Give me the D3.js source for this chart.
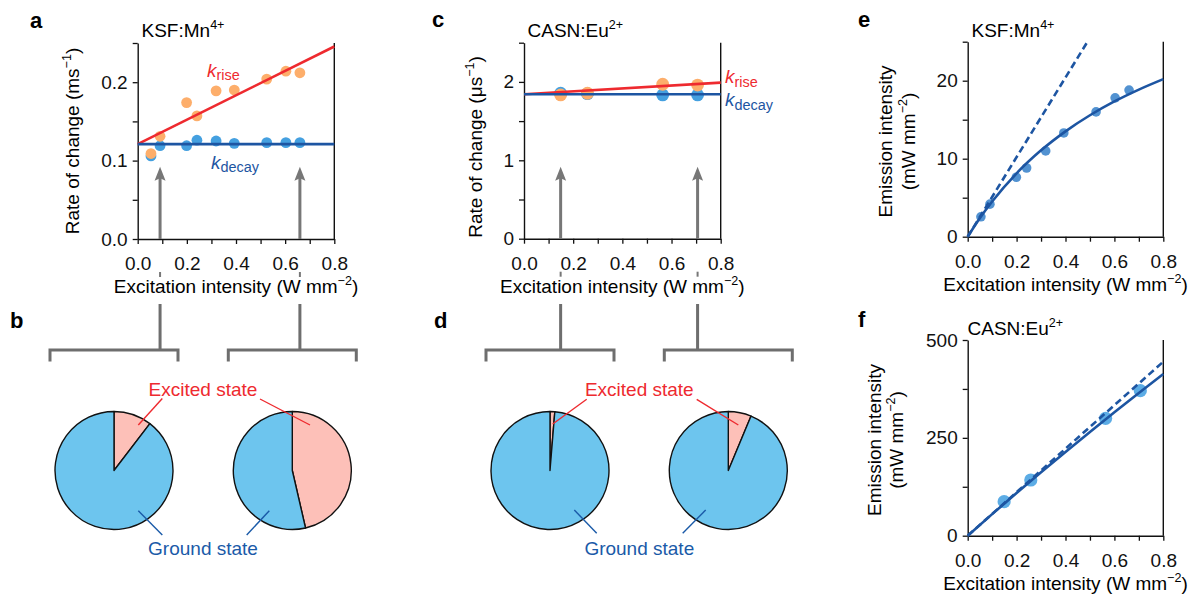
<!DOCTYPE html>
<html>
<head>
<meta charset="utf-8">
<script src="https://cdn.jsdelivr.net/npm/d3@7"></script>
<style>
  body { margin: 0; background: #fff; }
  svg { display: block; font-family: "Liberation Sans", Arial, Helvetica, sans-serif; }
</style>
</head>
<body>
<svg id="fig" width="1191" height="597"></svg>
<script>
// ---------- data ----------
// KSF:Mn4+ rate constants vs excitation intensity (W mm^-2), in ms^-1
const excitationKSF = [0.054, 0.091, 0.199, 0.241, 0.319, 0.393, 0.525, 0.603, 0.660];
const kRiseKSF      = [0.109, 0.131, 0.174, 0.157, 0.189, 0.190, 0.204, 0.214, 0.212];
const kDecayKSF     = [0.106, 0.119, 0.119, 0.126, 0.125, 0.122, 0.123, 0.123, 0.123];
const kRiseFitKSF   = [[0, 0.121], [0.8, 0.2455]];
const kDecayFitKSF  = [[0, 0.121], [0.8, 0.121]];

// CASN:Eu2+ rate constants, in us^-1
const excitationCASN = [0.149, 0.258, 0.564, 0.706];
const kRiseCASN      = [1.834, 1.855, 1.970, 1.960];
const kDecayCASN     = [1.855, 1.850, 1.834, 1.834];
const kRiseFitCASN   = [[0, 1.843], [0.8, 1.991]];
const kDecayFitCASN  = [[0, 1.843], [0.8, 1.843]];

// Emission intensity (mW mm^-2)
const emissionKSF = [2.55, 4.17, 7.62, 8.81, 11.0, 13.3, 16.0, 17.8, 18.8];
const emissionFitKSF = [[0, 0], [0.05, 2.40], [0.1, 4.52], [0.2, 8.13], [0.3, 11.07], [0.4, 13.51],
                        [0.5, 15.57], [0.6, 17.34], [0.7, 18.86], [0.8, 20.20]];
const emissionLinearKSF = [[0, 0], [0.49, 25]];

const emissionCASN = [86.9, 142.3, 299.8, 370.5];
const emissionFitCASN = [[0, 0], [0.1, 55.1], [0.2, 109.1], [0.3, 162.1], [0.4, 214.1],
                         [0.5, 265.2], [0.6, 315.4], [0.7, 364.7], [0.8, 413.0]];
const emissionLinearCASN = [[0, 0], [0.8, 444.6]];

// Excitation intensities that are marked with arrows, and the arrow tips (y units)
const markedKSF = [0.091, 0.660];
const markedCASN = [0.149, 0.706];
const arrowTipKSF = 0.092;
const arrowTipCASN = 0.918;

// Excited-state fraction for each marked intensity
const excitedFractionKSF = [0.104, 0.464];
const excitedFractionCASN = [0.013, 0.063];

// Tick values
const xTicks = [0, 0.1, 0.2, 0.3, 0.4, 0.5, 0.6, 0.7, 0.8];
const xTickLabels = [0, 0.2, 0.4, 0.6, 0.8];

// ---------- style ----------
const FS = 19;
const RED = '#ee2a2f';
const DARK_BLUE = '#1d55a2';
const ORANGE_PT = '#fdae6b';
const BLUE_PT = '#44a0e0';
const GREY = '#777777';
const PIE_BLUE = '#6dc5ee';
const PIE_PINK = '#fdc0b8';

const svg = d3.select('#fig');

// text with superscript / subscript parts
function richText(parent, parts, size) {
  const t = parent.append('text').attr('font-size', size);
  let cur = 0;
  parts.forEach(p => {
    const ts = t.append('tspan').text(p.t);
    let target = 0;
    if (p.sup) { target = -0.42 * size; ts.attr('font-size', size * 0.66); }
    if (p.sub) { target = p.sub; ts.attr('font-size', size * 0.76); }
    if (p.italic) ts.attr('font-style', 'italic');
    if (target !== cur) ts.attr('dy', target - cur);
    cur = target;
  });
  return t;
}

// framed axes: left + bottom axes, right border line
function makeAxes(o) {
  const x = d3.scaleLinear().domain([0, 0.8]).range([o.left, o.right]);
  const y = d3.scaleLinear().domain([0, o.yMax]).range([o.bottom, o.top]);
  const g = svg.append('g');

  const xAxis = d3.axisBottom(x).tickValues(xTicks).tickSize(5).tickSizeOuter(0).tickPadding(14)
    .tickFormat(d => xTickLabels.some(v => Math.abs(v - d) < 1e-9) ? d3.format('.1f')(d) : '');
  const yAxis = d3.axisLeft(y).tickValues(o.yTicks).tickSize(5).tickSizeOuter(0).tickPadding(5)
    .tickFormat(d => o.yLabels.some(v => Math.abs(v - d) < 1e-9) ? o.yFormat(d) : '');

  const gx = g.append('g').attr('transform', `translate(0,${o.bottom})`).call(xAxis);
  const gy = g.append('g').attr('transform', `translate(${o.left},0)`).call(yAxis);
  [gx, gy].forEach(a => {
    a.selectAll('path.domain').attr('stroke', '#111').attr('stroke-width', 1.4);
    a.selectAll('.tick line').attr('stroke', '#111').attr('stroke-width', 1.3);
    a.selectAll('.tick text').attr('font-size', FS).attr('fill', '#111')
      .attr('font-family', '"Liberation Sans", Arial, Helvetica, sans-serif');
  });
  gx.selectAll('.tick text').attr('dy', null).attr('y', 31 - 0);
  g.append('line').attr('x1', o.right).attr('x2', o.right).attr('y1', o.top).attr('y2', o.bottom)
    .attr('stroke', '#111').attr('stroke-width', 1.4);

  // x-axis title
  const xl = richText(g, [{ t: 'Excitation intensity (W mm' }, { t: '−2', sup: true }, { t: ')' }], FS)
    .attr('x', (o.left + o.right) / 2).attr('y', o.bottom + 54).attr('text-anchor', 'middle');
  return { x, y, g };
}

function line(sc, pts, color, width, dash) {
  const gen = d3.line().x(d => sc.x(d[0])).y(d => sc.y(d[1])).curve(d3.curveMonotoneX);
  const p = sc.g.append('path').datum(pts).attr('d', gen).attr('fill', 'none')
    .attr('stroke', color).attr('stroke-width', width);
  if (dash) p.attr('stroke-dasharray', dash);
  return p;
}

function dots(sc, xs, ys, color, r, opacity) {
  sc.g.append('g').selectAll('circle').data(xs).join('circle')
    .attr('cx', d => sc.x(d)).attr('cy', (d, i) => sc.y(ys[i])).attr('r', r)
    .attr('fill', color).attr('fill-opacity', opacity || 1);
}

function arrows(sc, xs, tipVal) {
  xs.forEach(v => {
    const px = sc.x(v), tip = sc.y(tipVal), base = sc.y(0);
    sc.g.append('line').attr('x1', px).attr('x2', px).attr('y1', base).attr('y2', tip + 10)
      .attr('stroke', GREY).attr('stroke-width', 3);
    sc.g.append('path')
      .attr('d', `M${px},${tip} L${px + 5.5},${tip + 14} L${px},${tip + 11.5} L${px - 5.5},${tip + 14} Z`)
      .attr('fill', GREY);
    // short continuation between tick labels and the axis title
    sc.g.append('line').attr('x1', px).attr('x2', px).attr('y1', base + 33).attr('y2', base + 38)
      .attr('stroke', GREY).attr('stroke-width', 2);
  });
}

function panelLetter(t, x, y) {
  svg.append('text').text(t).attr('x', x).attr('y', y).attr('font-size', 22)
    .attr('font-weight', 'bold').attr('fill', '#000');
}

function kLabel(parent, sub, x, y, color) {
  richText(parent, [{ t: 'k', italic: true }, { t: sub, sub: 3.5 }], FS)
    .attr('x', x).attr('y', y).attr('fill', color);
}

// ---------- panel a ----------
const a = makeAxes({ left: 137.7, right: 334.3, top: 43, bottom: 239, yMax: 0.25,
  yTicks: [0, 0.05, 0.1, 0.15, 0.2, 0.25], yLabels: [0, 0.1, 0.2], yFormat: d3.format('.1f') });
dots(a, excitationKSF, kDecayKSF, BLUE_PT, 5.4);
dots(a, excitationKSF, kRiseKSF, ORANGE_PT, 5.4);
line(a, kRiseFitKSF, RED, 2.6);
line(a, kDecayFitKSF, DARK_BLUE, 2.6);
arrows(a, markedKSF, arrowTipKSF);
kLabel(a.g, 'rise', 207, 76.5, RED);
kLabel(a.g, 'decay', 211, 168.5, DARK_BLUE);
richText(a.g, [{ t: 'KSF:Mn' }, { t: '4+', sup: true }], FS).attr('x', 141.5).attr('y', 36.5);
richText(a.g.append('g').attr('transform', 'translate(79,141) rotate(-90)'),
  [{ t: 'Rate of change (ms' }, { t: '−1', sup: true }, { t: ')' }], FS).attr('text-anchor', 'middle');
panelLetter('a', 30, 28);

// ---------- panel c ----------
const c = makeAxes({ left: 524, right: 720.7, top: 42.7, bottom: 238.7, yMax: 2.5,
  yTicks: [0, 0.5, 1, 1.5, 2, 2.5], yLabels: [0, 1, 2], yFormat: d3.format('d') });
dots(c, excitationCASN, kDecayCASN, BLUE_PT, 6.4);
dots(c, excitationCASN, kRiseCASN, ORANGE_PT, 6.4);
line(c, kRiseFitCASN, RED, 2.6);
line(c, kDecayFitCASN, DARK_BLUE, 2.6);
arrows(c, markedCASN, arrowTipCASN);
kLabel(c.g, 'rise', 725, 83, RED);
kLabel(c.g, 'decay', 725, 106, DARK_BLUE);
richText(c.g, [{ t: 'CASN:Eu' }, { t: '2+', sup: true }], FS).attr('x', 527.5).attr('y', 36.5);
richText(c.g.append('g').attr('transform', 'translate(482,147) rotate(-90)'),
  [{ t: 'Rate of change (μs' }, { t: '−1', sup: true }, { t: ')' }], FS).attr('text-anchor', 'middle');
panelLetter('c', 432, 27);

// ---------- panel e ----------
const e = makeAxes({ left: 967.7, right: 1163.3, top: 41.7, bottom: 236.7, yMax: 25,
  yTicks: [0, 5, 10, 15, 20, 25], yLabels: [0, 10, 20], yFormat: d3.format('d') });
dots(e, excitationKSF, emissionKSF, '#3f86cc', 4.8, 0.9);
line(e, emissionLinearKSF, DARK_BLUE, 2.6, '7,4');
line(e, emissionFitKSF, DARK_BLUE, 2.6);
richText(e.g, [{ t: 'KSF:Mn' }, { t: '4+', sup: true }], FS).attr('x', 971.5).attr('y', 36.5);
{
  const gl = e.g.append('g').attr('transform', 'translate(0,141.5) rotate(-90)');
  richText(gl, [{ t: 'Emission intensity' }], FS).attr('x', 0).attr('y', 892).attr('text-anchor', 'middle');
  richText(gl, [{ t: '(mW mm' }, { t: '−2', sup: true }, { t: ')' }], FS).attr('x', 0).attr('y', 914.5).attr('text-anchor', 'middle');
}
panelLetter('e', 858, 27);

// ---------- panel f ----------
const f = makeAxes({ left: 967.7, right: 1163.3, top: 340, bottom: 535.7, yMax: 500,
  yTicks: [0, 125, 250, 375, 500], yLabels: [0, 250, 500], yFormat: d3.format('d') });
dots(f, excitationCASN, emissionCASN, '#4aa3e2', 6.6, 0.9);
line(f, emissionLinearCASN, DARK_BLUE, 2.6, '7,4');
line(f, emissionFitCASN, DARK_BLUE, 2.6);
richText(f.g, [{ t: 'CASN:Eu' }, { t: '2+', sup: true }], FS).attr('x', 967.5).attr('y', 335);
{
  const gl = f.g.append('g').attr('transform', 'translate(0,440) rotate(-90)');
  richText(gl, [{ t: 'Emission intensity' }], FS).attr('x', 0).attr('y', 880.5).attr('text-anchor', 'middle');
  richText(gl, [{ t: '(mW mm' }, { t: '−2', sup: true }, { t: ')' }], FS).attr('x', 0).attr('y', 903).attr('text-anchor', 'middle');
}
panelLetter('f', 858, 327);

// ---------- pies b and d ----------
const pieR = 59;
const pieGen = d3.pie().sort(null).value(d => d);
const arcGen = d3.arc().innerRadius(0).outerRadius(pieR);

function pieGroup(sc, marked, fractions, centers, labelX) {
  const g = svg.append('g');
  marked.forEach((v, i) => {
    const px = sc.x(v), cx = centers[i];
    // bracket linking the marked intensity to its pie
    g.append('path')
      .attr('d', `M${px},304 L${px},350 M${cx - 64},361.5 L${cx - 64},350 L${cx + 64},350 L${cx + 64},361.5`)
      .attr('fill', 'none').attr('stroke', '#6e6e6e').attr('stroke-width', 3);
    const pg = g.append('g').attr('transform', `translate(${cx},470.5)`);
    pg.selectAll('path').data(pieGen([fractions[i], 1 - fractions[i]])).join('path')
      .attr('d', arcGen).attr('fill', (d, j) => j === 0 ? PIE_PINK : PIE_BLUE)
      .attr('stroke', '#111').attr('stroke-width', 1.4).attr('stroke-linejoin', 'round');
  });
  g.append('text').text('Excited state').attr('x', labelX).attr('y', 395.5)
    .attr('text-anchor', 'middle').attr('font-size', FS).attr('fill', RED);
  g.append('text').text('Ground state').attr('x', labelX).attr('y', 554.5)
    .attr('text-anchor', 'middle').attr('font-size', FS).attr('fill', '#1a5aa8');
  return g;
}

function leader(g, x1, y1, x2, y2, color) {
  g.append('line').attr('x1', x1).attr('y1', y1).attr('x2', x2).attr('y2', y2)
    .attr('stroke', color).attr('stroke-width', 1.4);
}

const gb = pieGroup(a, markedKSF, excitedFractionKSF, [114, 292.3], 203);
leader(gb, 162.3, 398.5, 138.3, 425, RED);
leader(gb, 260, 399, 310, 425, RED);
leader(gb, 138.3, 510.7, 162.3, 535, '#1a5aa8');
leader(gb, 269.3, 510.7, 246.7, 535, '#1a5aa8');
panelLetter('b', 10, 328);

const gd = pieGroup(c, markedCASN, excitedFractionCASN, [550, 728.3], 639.3);
leader(gd, 586.7, 399.3, 552.7, 424, RED);
leader(gd, 696.7, 399.3, 738.3, 425, RED);
leader(gd, 574.3, 510, 596.7, 533.3, '#1a5aa8');
leader(gd, 705.7, 510, 682.7, 533.3, '#1a5aa8');
panelLetter('d', 434, 328);
</script>
</body>
</html>
